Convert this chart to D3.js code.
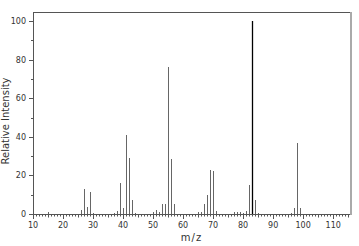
<!DOCTYPE html>
<html>
<head>
<meta charset="utf-8">
<script src="https://cdn.jsdelivr.net/npm/d3@7"></script>
<style>
  body { margin: 0; background: #fff; }
  svg { display: block; }
</style>
</head>
<body>
<div id="chart"></div>
<script>
(() => {
  const width = 359, height = 246;

  // peaks: m/z and relative intensity (%)
  const mzValues = [15, 26, 27, 28, 29, 30, 37, 38, 39, 40, 41, 42, 43, 44,
    50, 51, 52, 53, 54, 55, 56, 57, 65, 66, 67, 68, 69, 70, 71,
    77, 78, 79, 80, 81, 82, 83, 84, 85, 96, 97, 98, 99];
  const intensities = [1, 2, 13, 3.5, 11.5, 0.5, 0.7, 1.5, 16, 3.3, 41, 29, 7, 0.5,
    1.2, 2, 1, 5, 5, 76, 28.5, 5.2, 0.8, 1, 5, 9.7, 23, 22.5, 1.5,
    1, 1, 1, 0.5, 1.7, 15, 100, 7.3, 0.5, 0.5, 3.1, 37, 3.3];

  const xTickLabels = [10, 20, 30, 40, 50, 60, 70, 80, 90, 100, 110];
  const yTickLabels = [0, 20, 40, 60, 80, 100];

  const peaks = mzValues.map((mz, i) => ({ mz, value: intensities[i] }));

  const left = 33, right = 350, top = 12, bottom = 214;

  const x = d3.scaleLinear().domain([10, 115.6]).range([left, right]);
  const y = d3.scaleLinear().domain([0, 100]).range([bottom, 21]);

  const svg = d3.select("#chart").append("svg")
    .attr("width", width)
    .attr("height", height)
    .style("font-family", "'DejaVu Sans', Verdana, sans-serif");

  const px = v => Math.round(v) + 0.5;

  // frame
  svg.append("line")
    .attr("x1", left).attr("x2", right + 1)
    .attr("y1", top + 0.5).attr("y2", top + 0.5)
    .attr("stroke", "#555");
  svg.append("line")
    .attr("x1", right + 1).attr("x2", right + 1)
    .attr("y1", top).attr("y2", bottom + 1)
    .attr("stroke", "#aaa").attr("stroke-width", 2);
  svg.append("line")
    .attr("x1", left + 0.5).attr("x2", left + 0.5)
    .attr("y1", top).attr("y2", bottom + 1)
    .attr("stroke", "#555");

  // peaks
  svg.selectAll("line.peak")
    .data(peaks)
    .join("line")
    .attr("class", "peak")
    .attr("x1", d => px(x(d.mz)))
    .attr("x2", d => px(x(d.mz)))
    .attr("y1", bottom)
    .attr("y2", d => Math.round(y(d.value)))
    .attr("stroke", d => d.value === 100 ? "#000" : "#666")
    .attr("stroke-width", d => d.value === 100 ? 1.3 : 1);

  // x axis baseline + ticks
  svg.append("line")
    .attr("x1", left).attr("x2", right)
    .attr("y1", bottom + 0.5).attr("y2", bottom + 0.5)
    .attr("stroke", "#555");

  const minorX = d3.range(10, 116);
  svg.selectAll("line.xtick")
    .data(minorX)
    .join("line")
    .attr("class", "xtick")
    .attr("x1", d => px(x(d)))
    .attr("x2", d => px(x(d)))
    .attr("y1", bottom)
    .attr("y2", d => bottom + (d % 10 === 0 ? 5 : d % 5 === 0 ? 3.5 : 2.5))
    .attr("stroke", "#555");

  svg.selectAll("text.xlab")
    .data(xTickLabels)
    .join("text")
    .attr("class", "xlab")
    .attr("x", d => x(d))
    .attr("y", 228)
    .attr("text-anchor", "middle")
    .attr("font-size", 8)
    .attr("fill", "#333")
    .text(d => d);

  // y ticks
  const minorY = d3.range(0, 101, 10);
  svg.selectAll("line.ytick")
    .data(minorY)
    .join("line")
    .attr("class", "ytick")
    .attr("x1", left)
    .attr("x2", d => left - (d % 20 === 0 ? 4 : 2))
    .attr("y1", d => px(y(d)))
    .attr("y2", d => px(y(d)))
    .attr("stroke", "#555");

  svg.selectAll("text.ylab")
    .data(yTickLabels)
    .join("text")
    .attr("class", "ylab")
    .attr("x", 26)
    .attr("y", d => y(d) + 3)
    .attr("text-anchor", "end")
    .attr("font-size", 8)
    .attr("fill", "#333")
    .text(d => d);

  // axis titles
  svg.append("text")
    .attr("transform", `translate(9,${(top + bottom) / 2 + 8}) rotate(-90)`)
    .attr("text-anchor", "middle")
    .attr("font-size", 10)
    .attr("fill", "#333")
    .text("Relative Intensity");

  svg.append("text")
    .attr("x", (left + right) / 2)
    .attr("y", 241)
    .attr("text-anchor", "middle")
    .attr("font-size", 10)
    .attr("letter-spacing", 1)
    .attr("fill", "#333")
    .text("m/z");
})();
</script>
</body>
</html>
